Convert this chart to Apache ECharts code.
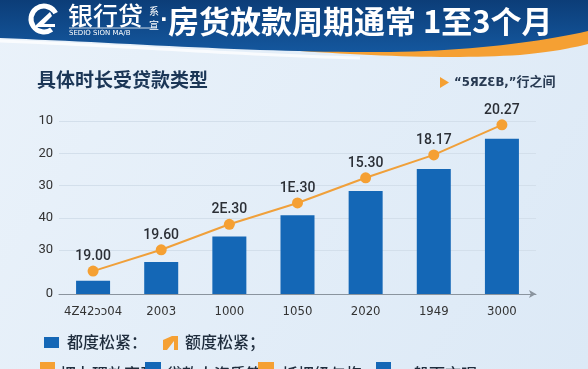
<!DOCTYPE html>
<html>
<head>
<meta charset="utf-8">
<script src="https://cdn.jsdelivr.net/npm/echarts@6/dist/echarts.min.js"></script>
<style>
html,body{margin:0;padding:0;}
#chart{width:588px;height:369px;}
</style>
</head>
<body>
<div id="chart"></div>
<script>
const categories = ["4Z42ↄↄ04", "2003", "1000", "1050", "2020", "1949", "3000"];
const barValues = [4.1, 9.9, 17.8, 24.4, 31.9, 38.7, 48.1];
const lineValues = [7.1, 13.7, 21.6, 28.2, 36.0, 43.1, 52.4];
const lineLabels = ["19.00", "19.60", "2E.30", "1E.30", "15.30", "18.17", "20.27"];
const yTickValues = [0, 13.6, 23.6, 33.6, 43.6, 53.6];
const yTickLabels = ["0", "30", "40", "30", "20", "10"];
const barName = "都度松紧：";
const lineName = "额度松紧；";
const extraLegend = ["押办理效率及", "贷款人资质等", "抵押级与抱", "一般而言呢"];

const CJK = '"Noto Sans CJK SC", "Noto Sans", sans-serif';
const BLUE = '#1467b6';
const ORANGE = '#f5a033';

// sample a chain of cubic bezier segments into points (decoration only)
function bez(p0, c1, c2, p3, n) {
  const pts = [];
  for (let i = 0; i <= n; i++) {
    const t = i / n, u = 1 - t;
    pts.push([
      u*u*u*p0[0] + 3*u*u*t*c1[0] + 3*u*t*t*c2[0] + t*t*t*p3[0],
      u*u*u*p0[1] + 3*u*u*t*c1[1] + 3*u*t*t*c2[1] + t*t*t*p3[1]
    ]);
  }
  return pts;
}
const blueEdge = bez([0, 38], [130, 43], [260, 53], [390, 52], 30)
  .concat(bez([390, 52], [470, 51], [540, 42], [588, 31], 20));
const bluePts = [[0, 0], [588, 0]].concat(blueEdge.slice().reverse());
const orangeLow = bez([220, 44], [330, 55], [440, 60], [520, 55], 30)
  .concat(bez([520, 55], [552, 52], [572, 48], [588, 44], 10));
const orangePts = [[220, 26]].concat(orangeLow).concat([[588, 26]]);
const highlight = bez([0, 41], [130, 46], [240, 55], [360, 58], 30);

const chart = echarts.init(document.getElementById('chart'), null, {renderer: 'canvas'});

const graphics = [
  {type: 'polyline', z: 1, shape: {points: highlight}, style: {fill: null, stroke: 'rgba(255,255,255,0.75)', lineWidth: 3}},
  {type: 'polygon', z: 1, shape: {points: orangePts}, style: {fill: ORANGE}},
  {type: 'polygon', z: 2, shape: {points: bluePts},
   style: {fill: new echarts.graphic.LinearGradient(0, 0, 0, 1, [{offset: 0, color: '#0c3d78'}, {offset: 1, color: '#14579e'}])}},
  // logo
  {type: 'arc', z: 3, shape: {cx: 44, cy: 19, r: 13, startAngle: 0.3 * Math.PI, endAngle: 1.85 * Math.PI},
   style: {fill: null, stroke: '#ffffff', lineWidth: 5}},
  {type: 'polygon', z: 3, shape: {points: [[36, 25], [50, 12], [52, 16], [44, 24], [55, 24], [55, 27], [36, 27]]},
   style: {fill: '#ffffff'}},
  {type: 'text', z: 3, x: 68, y: 15, style: {text: '银行贷', fill: '#ffffff', font: '500 25px ' + CJK, textVerticalAlign: 'middle'}},
  {type: 'line', z: 3, shape: {x1: 69, y1: 28, x2: 157, y2: 28}, style: {stroke: '#ffffff', lineWidth: 0.8}},
  {type: 'text', z: 3, x: 69, y: 33, style: {text: 'SEDIO SION MA/B', fill: '#ffffff', font: '7px "DejaVu Sans", sans-serif', textVerticalAlign: 'middle'}},
  {type: 'text', z: 3, x: 149, y: 11, style: {text: '系', fill: '#ffffff', font: '10px ' + CJK, textVerticalAlign: 'middle'}},
  {type: 'text', z: 3, x: 149, y: 25, style: {text: '宣', fill: '#ffffff', font: '10px ' + CJK, textVerticalAlign: 'middle'}},
  {type: 'text', z: 3, x: 160, y: 21, style: {text: '·', fill: '#ffffff', font: 'bold 20px "DejaVu Sans", sans-serif', textVerticalAlign: 'middle'}},
  {type: 'text', z: 3, x: 168, y: 21, style: {text: '房货放款周期通常 1至3个月', fill: '#ffffff', font: 'bold 31px ' + CJK, textVerticalAlign: 'middle'}},
  // subtitle
  {type: 'text', z: 3, x: 37, y: 80, style: {text: '具体时长受贷款类型', fill: '#1b3656', font: 'bold 19px ' + CJK, textVerticalAlign: 'middle'}},
  // top-right note
  {type: 'polygon', z: 3, shape: {points: [[440, 77], [440, 88], [449, 82.5]]}, style: {fill: ORANGE}},
  {type: 'text', z: 3, x: 454, y: 83, style: {text: '“5ЯZƐB,”行之间', fill: '#283a52', font: 'bold 13px "DejaVu Sans Condensed", ' + CJK, textVerticalAlign: 'middle'}},
  // legend row 1
  {type: 'rect', z: 3, shape: {x: 44, y: 337, width: 15, height: 11}, style: {fill: BLUE}},
  {type: 'text', z: 3, x: 67, y: 342, style: {text: barName, fill: '#1f2d3d', font: '500 16px ' + CJK, textVerticalAlign: 'middle'}},
  {type: 'polygon', z: 3, shape: {points: [[163, 340], [172, 336], [178, 336], [178, 350], [174, 350], [174, 341], [167, 350], [163, 350]]}, style: {fill: ORANGE}},
  {type: 'text', z: 3, x: 185, y: 342, style: {text: lineName, fill: '#1f2d3d', font: '500 16px ' + CJK, textVerticalAlign: 'middle'}},
  // legend row 2
  {type: 'rect', z: 3, shape: {x: 40, y: 362, width: 15, height: 14}, style: {fill: ORANGE}},
  {type: 'text', z: 3, x: 60, y: 374, style: {text: extraLegend[0], fill: '#1f2d3d', font: '500 16px ' + CJK, textVerticalAlign: 'middle'}},
  {type: 'rect', z: 3, shape: {x: 145, y: 362, width: 16, height: 14}, style: {fill: BLUE}},
  {type: 'text', z: 3, x: 166, y: 374, style: {text: extraLegend[1], fill: '#1f2d3d', font: '500 16px ' + CJK, textVerticalAlign: 'middle'}},
  {type: 'rect', z: 3, shape: {x: 258, y: 362, width: 16, height: 14}, style: {fill: ORANGE}},
  {type: 'text', z: 3, x: 282, y: 374, style: {text: extraLegend[2], fill: '#1f2d3d', font: '500 16px ' + CJK, textVerticalAlign: 'middle'}},
  {type: 'rect', z: 3, shape: {x: 376, y: 362, width: 15, height: 14}, style: {fill: BLUE}},
  {type: 'text', z: 3, x: 397, y: 374, style: {text: extraLegend[3], fill: '#1f2d3d', font: '500 16px ' + CJK, textVerticalAlign: 'middle'}}
];

const option = {
  animation: false,
  backgroundColor: new echarts.graphic.LinearGradient(0, 0, 1, 1, [{offset: 0, color: '#eaf2fa'}, {offset: 1, color: '#dce9f6'}]),
  grid: {left: 59, right: 52, top: 121, bottom: 75},
  xAxis: {
    type: 'category',
    data: categories,
    axisLine: {symbol: ['none', 'arrow'], symbolSize: [6, 7], lineStyle: {color: '#8a949e', width: 1}},
    axisTick: {show: false},
    axisLabel: {interval: 0, hideOverlap: false, color: '#333', fontSize: 13, margin: 11, fontFamily: '"DejaVu Sans Condensed", sans-serif'}
  },
  yAxis: {
    type: 'value',
    min: 0,
    max: 53.6,
    axisLine: {show: false},
    axisTick: {show: false, customValues: yTickValues},
    axisLabel: {
      customValues: yTickValues,
      color: '#333', fontSize: 13, margin: 6, fontFamily: 'Roboto, sans-serif',
      formatter: function (v) {
        const i = yTickValues.findIndex(function (t) { return Math.abs(t - v) < 1e-6; });
        return i >= 0 ? yTickLabels[i] : '';
      }
    },
    splitLine: {show: true, lineStyle: {color: '#d3dfeb', width: 1}}
  },
  series: [
    {
      name: barName,
      type: 'bar',
      data: barValues,
      barWidth: 34,
      itemStyle: {color: BLUE},
      z: 2
    },
    {
      name: lineName,
      type: 'line',
      data: lineValues,
      symbol: 'circle',
      symbolSize: 11,
      lineStyle: {color: '#f0a03a', width: 2},
      itemStyle: {color: ORANGE},
      label: {
        show: true, position: 'top', distance: 2,
        color: '#2b2f36', fontSize: 14, fontWeight: 500, fontFamily: 'Roboto, sans-serif',
        formatter: function (p) { return lineLabels[p.dataIndex]; }
      },
      z: 3
    }
  ],
  graphic: graphics
};
chart.setOption(option);
</script>
</body>
</html>
